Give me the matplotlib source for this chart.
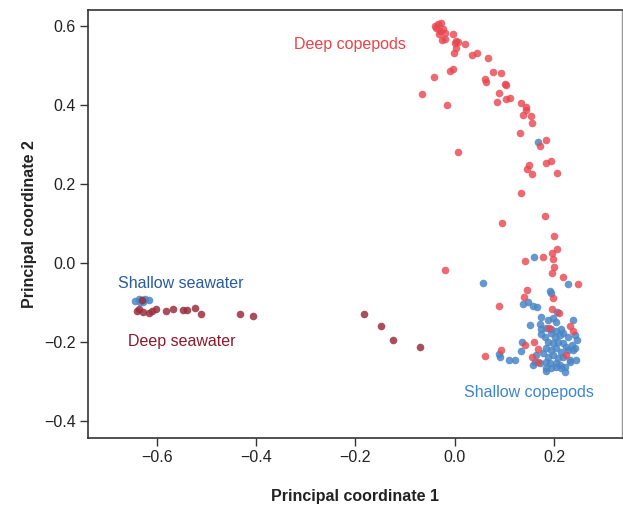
import matplotlib.pyplot as plt

plt.rcParams['font.family'] = ['Liberation Sans', 'DejaVu Sans']

# Principal coordinates
deep_cop_x = [-0.040, -0.034, -0.027, -0.037, -0.030, -0.024, -0.020, -0.032, -0.025, -0.020,
              -0.003, 0.003, 0.007, 0.000, 0.002, 0.020, -0.002, 0.035, 0.044, 0.066,
              -0.010, -0.003, -0.042, -0.066, -0.015, 0.076, 0.094, 0.060, 0.062, 0.101,
              0.104, 0.089, 0.085, 0.103, 0.112, 0.134, 0.143, 0.144, 0.137, 0.154,
              0.155, 0.132, 0.184, 0.172, 0.006, 0.149, 0.146, 0.155, 0.183, 0.194,
              0.206, 0.133, 0.181, 0.096, 0.200, 0.206, 0.195, 0.178, 0.198, 0.141,
              0.200, 0.196, 0.218, 0.247, -0.020, 0.145, 0.139, 0.197, 0.088, 0.196,
              0.210, 0.189, 0.231, 0.238, 0.159, 0.141, 0.094, 0.060, 0.167, 0.155,
              0.224, 0.167]
deep_cop_y = [0.600, 0.605, 0.608, 0.594, 0.586, 0.592, 0.583, 0.580, 0.565, 0.566,
              0.580, 0.563, 0.559, 0.556, 0.544, 0.554, 0.531, 0.526, 0.532, 0.519,
              0.487, 0.490, 0.471, 0.427, 0.401, 0.484, 0.480, 0.465, 0.459, 0.454,
              0.451, 0.430, 0.407, 0.414, 0.417, 0.406, 0.396, 0.387, 0.375, 0.372,
              0.354, 0.328, 0.312, 0.297, 0.281, 0.248, 0.239, 0.226, 0.254, 0.259,
              0.228, 0.177, 0.119, 0.101, 0.067, 0.035, 0.025, 0.015, 0.009, 0.006,
              -0.009, -0.026, -0.035, -0.052, -0.019, -0.068, -0.087, -0.089, -0.109, -0.116,
              -0.127, -0.165, -0.159, -0.171, -0.199, -0.208, -0.220, -0.235, -0.219, -0.237,
              -0.233, -0.250]

shallow_cop_x = [0.168, 0.159, 0.056, 0.228, 0.191, 0.194, 0.137, 0.147, 0.157, 0.165,
                 0.206, 0.173, 0.188, 0.198, 0.204, 0.238, 0.151, 0.172, 0.174, 0.184,
                 0.194, 0.204, 0.214, 0.174, 0.181, 0.194, 0.201, 0.211, 0.218, 0.228,
                 0.241, 0.245, 0.188, 0.198, 0.208, 0.218, 0.224, 0.235, 0.241, 0.136,
                 0.134, 0.184, 0.194, 0.204, 0.214, 0.228, 0.238, 0.164, 0.177, 0.188,
                 0.198, 0.208, 0.218, 0.231, 0.243, 0.161, 0.171, 0.183, 0.192, 0.203,
                 0.211, 0.221, 0.231, 0.157, 0.183, 0.194, 0.204, 0.214, 0.221, 0.184,
                 0.089, 0.092, 0.109, 0.122]
shallow_cop_y = [0.306, 0.014, -0.051, -0.053, -0.071, -0.077, -0.105, -0.099, -0.109, -0.111,
                 -0.125, -0.136, -0.144, -0.140, -0.149, -0.145, -0.156, -0.154, -0.167, -0.165,
                 -0.168, -0.171, -0.167, -0.180, -0.187, -0.178, -0.187, -0.182, -0.178, -0.187,
                 -0.182, -0.195, -0.199, -0.203, -0.199, -0.203, -0.212, -0.208, -0.216, -0.201,
                 -0.223, -0.216, -0.220, -0.216, -0.225, -0.220, -0.220, -0.233, -0.229, -0.237,
                 -0.233, -0.241, -0.237, -0.246, -0.246, -0.250, -0.254, -0.250, -0.254, -0.252,
                 -0.258, -0.263, -0.250, -0.258, -0.267, -0.267, -0.263, -0.267, -0.275, -0.273,
                 -0.230, -0.239, -0.246, -0.246]

shallow_sw_x = [-0.643, -0.636, -0.630, -0.623, -0.616, -0.633, -0.627]
shallow_sw_y = [-0.096, -0.092, -0.094, -0.092, -0.095, -0.099, -0.098]

deep_sw_x = [-0.630, -0.635, -0.628, -0.616, -0.610, -0.602, -0.581, -0.567, -0.546, -0.539,
             -0.523, -0.511, -0.432, -0.407, -0.182, -0.149, -0.125, -0.070, -0.640]
deep_sw_y = [-0.094, -0.117, -0.123, -0.126, -0.121, -0.117, -0.121, -0.116, -0.119, -0.119,
             -0.113, -0.130, -0.129, -0.134, -0.129, -0.159, -0.195, -0.212, -0.121]

fig = plt.figure(figsize=(6.23, 5.05), dpi=100)
ax = fig.add_axes([0.1413, 0.1327, 0.8567, 0.8473])

ax.scatter(shallow_sw_x, shallow_sw_y, s=30, color='#4a86c6', alpha=0.85, linewidths=0)
ax.scatter(deep_sw_x, deep_sw_y, s=30, color='#9a2f3e', alpha=0.85, linewidths=0)
ax.scatter(shallow_cop_x, shallow_cop_y, s=30, color='#4a86c6', alpha=0.85, linewidths=0)
ax.scatter(deep_cop_x, deep_cop_y, s=30, color='#e8464f', alpha=0.8, linewidths=0)

ax.text(-0.211, 0.552, 'Deep copepods', color='#e8434b', fontsize=11.5, ha='center', va='center')
ax.text(-0.551, -0.053, 'Shallow seawater', color='#2a5c9a', fontsize=11.5, ha='center', va='center')
ax.text(-0.549, -0.200, 'Deep seawater', color='#8b1a2b', fontsize=11.5, ha='center', va='center')
ax.text(0.149, -0.327, 'Shallow copepods', color='#3d85cc', fontsize=11.5, ha='center', va='center')

ax.set_xlim(-0.738, 0.336)
ax.set_ylim(-0.443, 0.640)
ax.set_xticks([-0.6, -0.4, -0.2, 0.0, 0.2])
ax.set_yticks([-0.4, -0.2, 0.0, 0.2, 0.4, 0.6])
ax.set_xticklabels(['\u22120.6', '\u22120.4', '\u22120.2', '0.0', '0.2'])
ax.set_yticklabels(['\u22120.4', '\u22120.2', '0.0', '0.2', '0.4', '0.6'])
ax.tick_params(direction='out', length=6, width=1, color='#333333',
               labelsize=11.5, labelcolor='#222222', pad=3)

for side in ['left', 'bottom', 'top']:
    ax.spines[side].set_color('#333333')
    ax.spines[side].set_linewidth(1.2)
ax.spines['right'].set_color('#999999')
ax.spines['right'].set_linewidth(1.0)

ax.set_xlabel('Principal coordinate 1', fontsize=11.5, fontweight='bold', color='#222222', labelpad=17)
ax.set_ylabel('Principal coordinate 2', fontsize=11.5, fontweight='bold', color='#222222', labelpad=5)

fig.savefig('out.png', dpi=100)
